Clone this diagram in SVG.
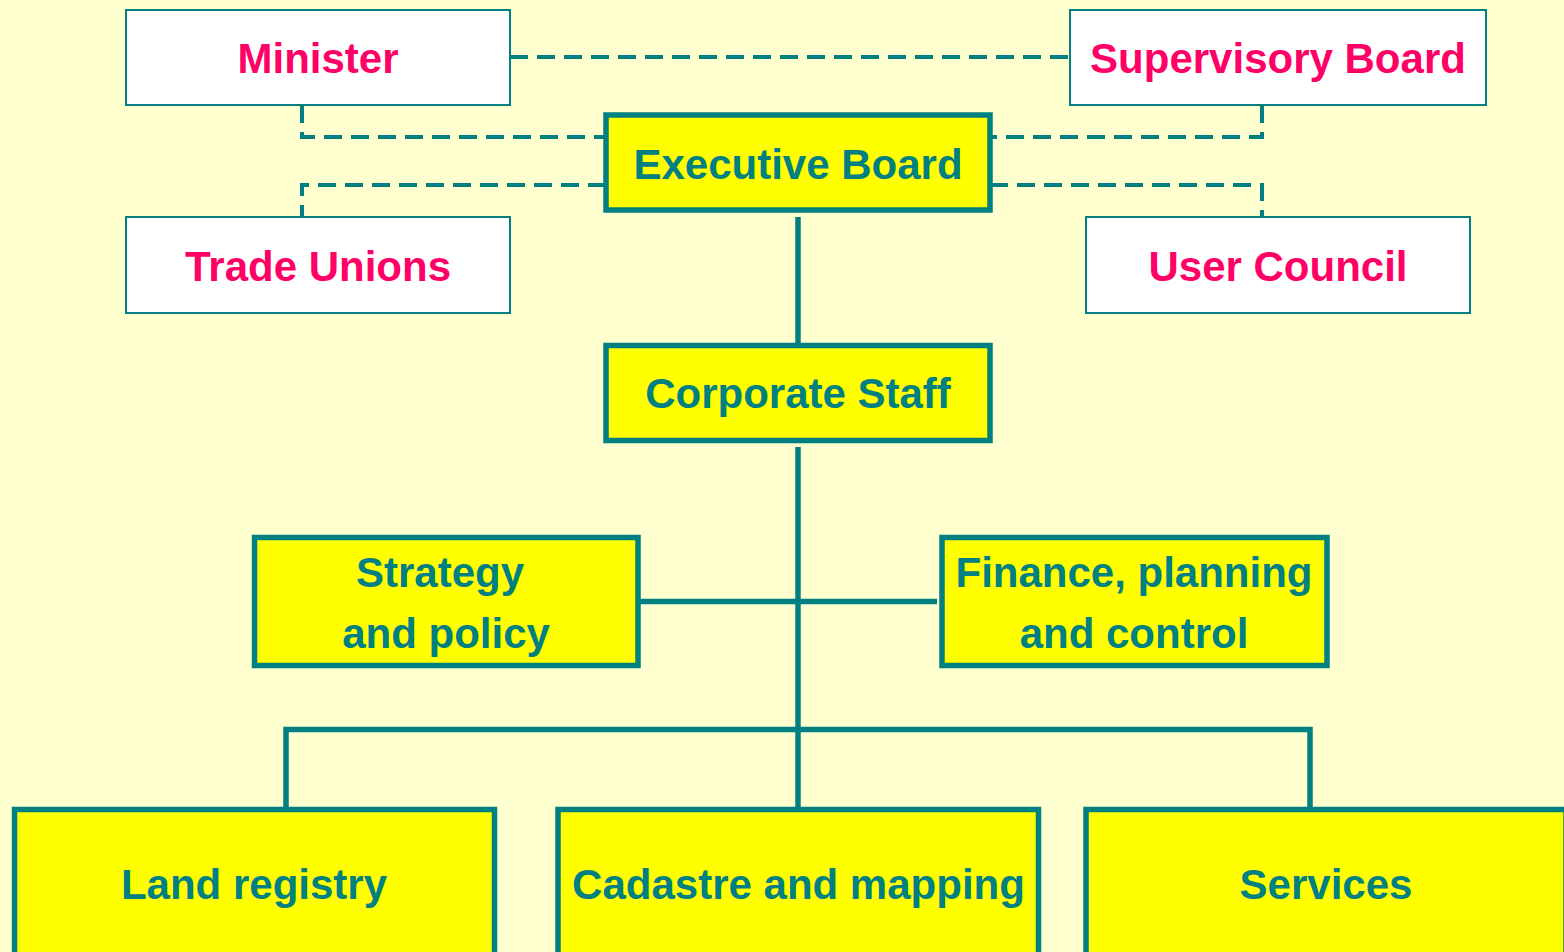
<svg xmlns="http://www.w3.org/2000/svg" width="1564" height="952" viewBox="0 0 1564 952">
<style>
.bg{fill:#FFFFD0}
.thin{fill:#FFFFFF;stroke:#008080;stroke-width:2}
.thick{fill:#FFFF00;stroke:#008080;stroke-width:5.5}
.pink{font-family:"Liberation Sans",Arial,sans-serif;font-weight:bold;font-size:42px;fill:#FF0066;text-anchor:middle}
.teal{font-family:"Liberation Sans",Arial,sans-serif;font-weight:bold;font-size:42px;fill:#008080;text-anchor:middle}
.dash{fill:none;stroke:#008080;stroke-width:4;stroke-dasharray:18 9}
.solid{fill:none;stroke:#008080;stroke-width:5.5}
</style>
<rect class="bg" x="0" y="0" width="1564" height="952"/>
<g id="connectors">
<path class="dash" d="M510,57 H1070"/>
<path class="dash" d="M302,105 V137 H606"/>
<path class="dash" d="M606,185 H302 V217"/>
<path class="dash" d="M1262,105 V137 H990"/>
<path class="dash" d="M990,185 H1262 V217"/>
<path class="solid" d="M798,217 V345"/>
<path class="solid" d="M798,447 V808"/>
<path class="solid" d="M638,601.5 H937"/>
<path class="solid" d="M286,808 V729.5 H1310 V808"/>
</g>
<g id="minister">
<rect class="thin" x="126" y="10" width="384" height="95"/>
<text class="pink" x="318" y="73">Minister</text>
</g>
<g id="supervisory-board">
<rect class="thin" x="1070" y="10" width="416" height="95"/>
<text class="pink" x="1278" y="73">Supervisory Board</text>
</g>
<g id="trade-unions">
<rect class="thin" x="126" y="217" width="384" height="96"/>
<text class="pink" x="318" y="281">Trade Unions</text>
</g>
<g id="user-council">
<rect class="thin" x="1086" y="217" width="384" height="96"/>
<text class="pink" x="1278" y="281">User Council</text>
</g>
<g id="executive-board">
<rect class="thick" x="606" y="115" width="384" height="95"/>
<text class="teal" x="798" y="179">Executive Board</text>
</g>
<g id="corporate-staff">
<rect class="thick" x="606" y="345.5" width="384" height="95"/>
<text class="teal" x="798" y="408">Corporate Staff</text>
</g>
<g id="strategy-policy">
<rect class="thick" x="254.5" y="537.5" width="383.5" height="128"/>
<text class="teal" x="440" y="587">Strategy</text>
<text class="teal" x="446" y="648">and policy</text>
</g>
<g id="finance">
<rect class="thick" x="942" y="537.5" width="385" height="128"/>
<text class="teal" x="1134" y="587">Finance, planning</text>
<text class="teal" x="1134" y="648">and control</text>
</g>
<g id="land-registry">
<rect class="thick" x="14.5" y="809.5" width="480" height="160"/>
<text class="teal" x="254" y="899">Land registry</text>
</g>
<g id="cadastre">
<rect class="thick" x="558" y="809.5" width="480.5" height="160"/>
<text class="teal" x="798.5" y="899">Cadastre and mapping</text>
</g>
<g id="services">
<rect class="thick" x="1086" y="809.5" width="480" height="160"/>
<text class="teal" x="1326" y="899">Services</text>
</g>
</svg>
